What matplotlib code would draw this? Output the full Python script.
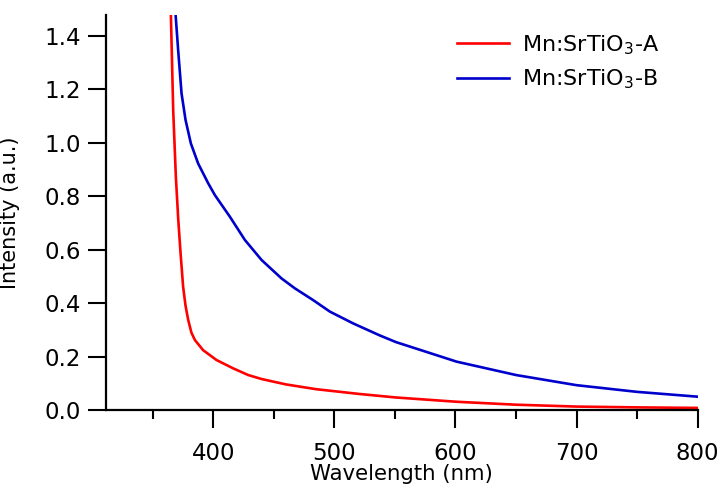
import matplotlib
matplotlib.use('Agg')
import matplotlib.pyplot as plt
from matplotlib.ticker import MultipleLocator

# Mn:SrTiO3-A (rojo)
wl_a = [365.1, 367, 369.2, 371.2, 373.1, 375.2, 377.2, 379.4, 382, 384.9, 391.7, 402.8,
        416.5, 428.9, 440, 460, 485, 505, 521, 551, 601, 650, 700, 750, 800]
int_a = [1.477, 1.122, 0.873, 0.711, 0.586, 0.461, 0.39, 0.337, 0.29, 0.262, 0.224, 0.187,
         0.156, 0.131, 0.116, 0.096, 0.078, 0.068, 0.060, 0.047, 0.031, 0.020, 0.013, 0.010, 0.008]

# Mn:SrTiO3-B (azul)
wl_b = [369, 371.1, 373.9, 377.2, 381.6, 387.6, 395.9, 401.4, 413.8, 426.2, 440,
        456.5, 467.5, 482.6, 496.4, 515.6, 537.6, 551, 601, 650, 700, 750, 800]
int_b = [1.477, 1.346, 1.184, 1.085, 0.997, 0.922, 0.848, 0.804, 0.723, 0.636, 0.561,
         0.492, 0.455, 0.411, 0.368, 0.324, 0.279, 0.254, 0.181, 0.131, 0.093, 0.068, 0.050]

etiquetas = ['Mn:SrTiO$_3$-A', 'Mn:SrTiO$_3$-B']
colores = ['#FF0000', '#0000CC']

plt.rcParams['font.family'] = 'DejaVu Sans'
plt.rcParams['mathtext.fontset'] = 'dejavusans'

fig = plt.figure(figsize=(7.2, 4.87), dpi=100)
ax = fig.add_axes([0.147, 0.158, 0.822, 0.811])

ax.plot(wl_a, int_a, color=colores[0], lw=1.9, label=etiquetas[0])
ax.plot(wl_b, int_b, color=colores[1], lw=1.9, label=etiquetas[1])

ax.set_xlim(311.4, 800)
ax.set_ylim(0, 1.477)
ax.xaxis.set_major_locator(MultipleLocator(100))
ax.xaxis.set_minor_locator(MultipleLocator(50))
ax.yaxis.set_major_locator(MultipleLocator(0.2))
ax.yaxis.set_major_formatter(plt.FuncFormatter(lambda v, p: f'{v:.1f}'))

for s in ['top', 'right']:
    ax.spines[s].set_visible(False)
for s in ['left', 'bottom']:
    ax.spines[s].set_linewidth(1.6)

ax.tick_params(axis='both', which='major', direction='out', length=13, width=1.5,
               labelsize=16.5, color='black')
ax.tick_params(axis='x', which='major', pad=10)
ax.tick_params(axis='y', which='major', pad=5)
ax.tick_params(axis='x', which='minor', direction='out', length=6.5, width=1.5)

ax.set_xlabel('Wavelength (nm)', fontsize=15.3, va='baseline')
ax.set_ylabel('Intensity (a.u.)', fontsize=15)
ax.xaxis.set_label_coords(0.5, -0.178)
ax.yaxis.set_label_coords(-0.145, 0.5)

ax.legend(loc='upper left', bbox_to_anchor=(0.56, 1.005), frameon=False, fontsize=16,
          handlelength=2.35, handletextpad=0.55, labelspacing=0.5)

plt.savefig('out.png', dpi=100)
